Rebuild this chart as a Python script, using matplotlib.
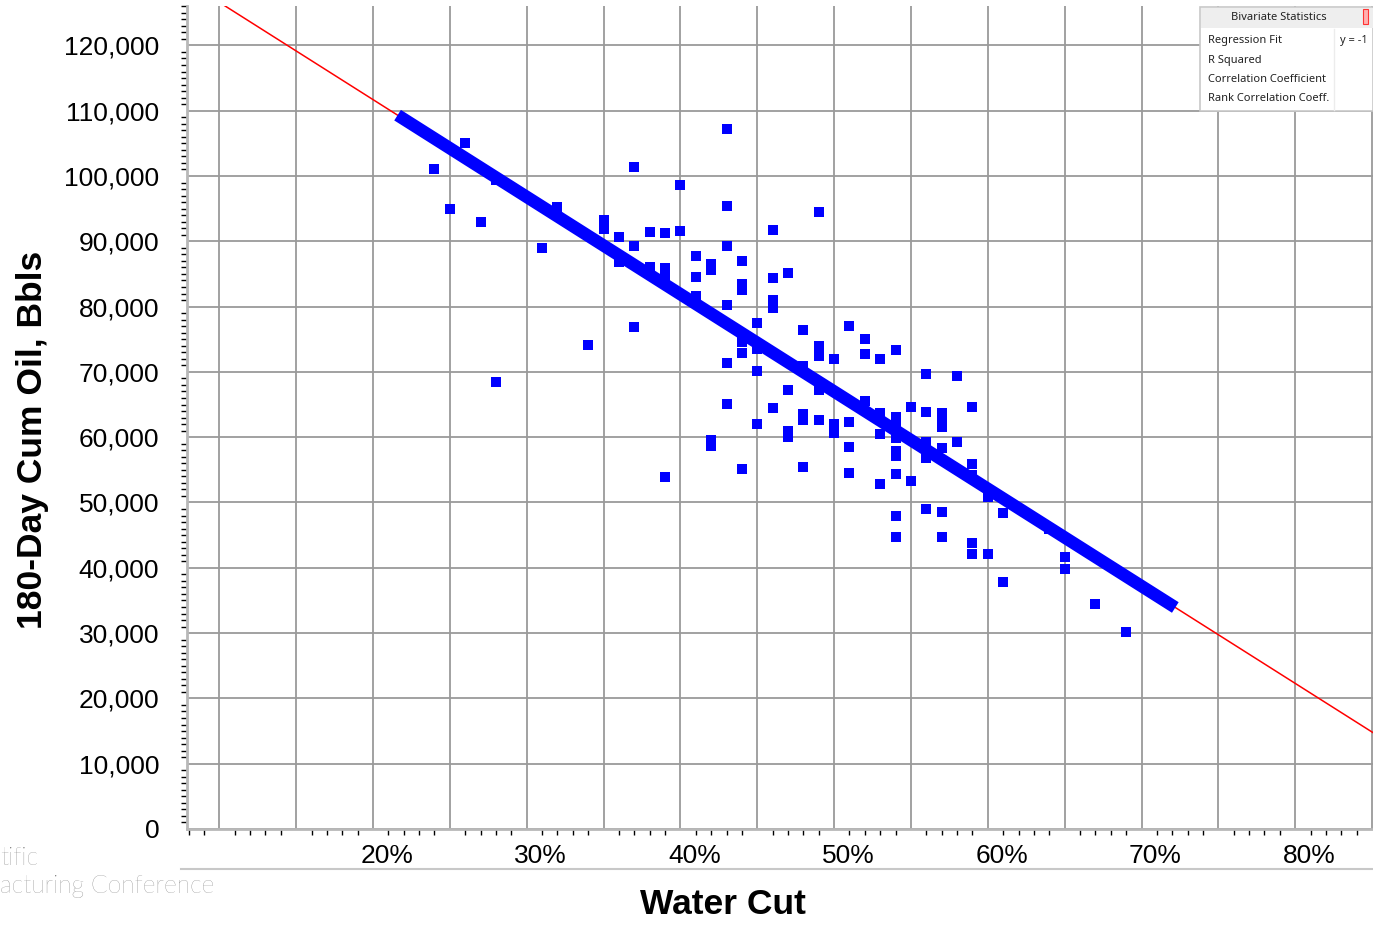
import matplotlib
matplotlib.use('Agg')
import matplotlib.pyplot as plt
import numpy as np
from matplotlib.ticker import FixedLocator, MultipleLocator, FuncFormatter
from matplotlib.transforms import ScaledTranslation
from matplotlib.patches import Rectangle
from matplotlib.lines import Line2D

# ---------------- data ----------------
water_cut = [24, 25, 26, 27, 28, 28, 31, 32, 34, 35, 35, 36, 36, 37, 37, 37,
             38, 38, 39, 39, 39, 39, 40, 40, 41, 41, 41, 42, 42, 42, 42,
             43, 43, 43, 43, 43, 43, 44, 44, 44, 44, 44, 44, 45, 45, 45, 45,
             46, 46, 46, 46, 46, 47, 47, 47, 47, 48, 48, 48, 48, 48,
             49, 49, 49, 49, 49, 50, 50, 50, 51, 51, 51, 51, 52, 52, 52,
             53, 53, 53, 53, 54, 54, 54, 54, 54, 54, 54, 54, 54, 55, 55,
             56, 56, 56, 56, 56, 56, 57, 57, 57, 57, 57, 57, 58, 58,
             59, 59, 59, 59, 59, 60, 60, 61, 61, 64, 65, 65, 67, 69]
cum_oil = [101000, 95000, 105000, 93000, 99400, 68500, 89000, 95300, 74100, 93200, 91900,
           90700, 86800, 101400, 89300, 76900,
           91400, 86100, 91300, 85900, 84500, 53900, 98600, 91600, 87700, 84500, 81600,
           86500, 85600, 59600, 58700,
           107200, 95400, 89300, 80200, 71400, 65100, 87000, 83500, 82500, 74600, 72900, 55100,
           77500, 73500, 70100, 62000,
           91700, 84400, 81000, 79800, 64500, 85100, 67200, 60900, 60000,
           76400, 70900, 63600, 62600, 55400,
           94500, 74000, 72400, 67200, 62600, 72000, 62000, 60600, 77000, 62300, 58500, 54500,
           75000, 72700, 65500,
           72000, 63700, 60500, 52800, 73400, 63100, 62200, 59900, 57900, 57100, 54400, 47900, 44700,
           64600, 53300,
           69700, 63900, 59300, 57600, 56800, 49000, 63700, 62600, 61600, 58300, 48500, 44700,
           69400, 59300,
           64600, 55900, 54200, 43800, 42100, 50800, 42100, 48400, 37800, 45900, 41700, 39800,
           34500, 30200]

fit_slope = -1490        # Bbls per % water cut
fit_intercept = 141500
fit_thick_range = [21.6, 72.2]
x_label_values = [20, 30, 40, 50, 60, 70, 80]
y_tick_values = list(range(0, 130000, 10000))
stat_rows = ["Regression Fit", "R Squared", "Correlation Coefficient", "Rank Correlation Coeff."]
stat_values = ["y = -1", "", "", ""]
watermark_lines = ["tific", "acturing Conference"]

# ---------------- figure ----------------
W, H = 1373, 925
fig = plt.figure(figsize=(W / 100, H / 100), dpi=100)
fig.patch.set_facecolor('white')

def fx(px):
    return px / W

def fy(py):
    return 1 - py / H

# watermark behind chart panel
wm_font = dict(family=['Lato', 'DejaVu Sans'], fontweight='light', color='#6e6e6e', fontsize=17.7)
fig.text(fx(0), fy(858), watermark_lines[0], ha='left', va='center', zorder=-3, **wm_font)
fig.text(fx(0), fy(886), watermark_lines[1], ha='left', va='center', zorder=-3, **wm_font)
fig.patches.append(Rectangle((fx(181), fy(879)), fx(1373) - fx(181), fy(0) - fy(879),
                             transform=fig.transFigure, facecolor='white', edgecolor='none', zorder=-2))
fig.lines.append(Line2D([fx(181), fx(1373)], [fy(869), fy(869)], transform=fig.transFigure,
                        color='#c8c8c8', lw=1.5, zorder=-1))

ax = fig.add_axes([fx(187), fy(829), fx(1373) - fx(187), fy(6) - fy(829)])
ax.set_facecolor('white')
x_left = 20 - (373 - 187) / 15.37
x_right = 20 + (1373 - 373) / 15.37
ax.set_xlim(x_left, x_right)
ax.set_ylim(0, (829 - 6) / 6.53 * 1000)

# gridlines (major) every 5%, labels every 10%
ax.xaxis.set_major_locator(FixedLocator(np.arange(10, 86, 5)))
ax.xaxis.set_major_formatter(FuncFormatter(
    lambda v, p: f"{int(round(v))}%" if int(round(v)) in x_label_values else ""))
ax.xaxis.set_minor_locator(MultipleLocator(1))
ax.yaxis.set_major_locator(FixedLocator(y_tick_values))
ax.yaxis.set_major_formatter(FuncFormatter(lambda v, p: f"{int(v):,}"))
ax.yaxis.set_minor_locator(MultipleLocator(1000))

tick_font = 'Liberation Sans'
ax.tick_params(axis='x', which='major', length=0, pad=11, labelsize=19, labelcolor='black')
ax.tick_params(axis='y', which='major', length=0, pad=20, labelsize=19, labelcolor='black')
ax.tick_params(axis='both', which='minor', length=4, width=1, color='black', direction='out')
for lab in ax.get_xticklabels() + ax.get_yticklabels():
    lab.set_fontfamily(tick_font)
offset = ScaledTranslation(14 / 100, 0, fig.dpi_scale_trans)
for lab in ax.get_xticklabels():
    lab.set_transform(lab.get_transform() + offset)

ax.grid(True, which='major', color='#9a9a9a', lw=1.3)
ax.set_axisbelow(True)
for s in ['top', 'right']:
    ax.spines[s].set_visible(False)
for s in ['left', 'bottom']:
    ax.spines[s].set_color('#b8b8b8')
    ax.spines[s].set_linewidth(2)

# regression lines
xr = np.array([10, x_right])
ax.plot(xr, fit_intercept + fit_slope * xr, color='#ff0000', lw=1.1, zorder=2)
xt = np.array(fit_thick_range)
ax.plot(xt, fit_intercept + fit_slope * xt, color='#0000ff', lw=9, zorder=3, solid_capstyle='butt')

# points
ax.plot(water_cut, cum_oil, linestyle='none', marker='s', markersize=6.5, color='#0000ff',
        markeredgewidth=0, zorder=4)

# axis titles
fig.text(fx(33), fy(440), "180-Day Cum Oil, Bbls", rotation=90, ha='center', va='center',
         fontsize=25.5, fontweight='bold', family=tick_font)
fig.text(fx(723), fy(905), "Water Cut", ha='center', va='center',
         fontsize=25.5, fontweight='bold', family=tick_font)

# statistics table
def prect(x0, y0, x1, y1, **kw):
    fig.patches.append(Rectangle((fx(x0), fy(y1)), fx(x1) - fx(x0), fy(y0) - fy(y1),
                                 transform=fig.transFigure, **kw))

prect(1200, 7, 1373, 111, facecolor='white', edgecolor='#c8c8c8', lw=1.2, zorder=5)
prect(1201, 8, 1373, 28, facecolor='#eeeeee', edgecolor='none', zorder=6)
fig.lines.append(Line2D([fx(1334), fx(1334)], [fy(29), fy(110)], transform=fig.transFigure,
                        color='#ececec', lw=1, zorder=6))
prect(1363, 9, 1368, 24, facecolor='#ffb0b0', edgecolor='#ff3333', lw=0.8, zorder=7)
tbl_font = dict(family=['Noto Sans', 'DejaVu Sans'], fontsize=8.0, color='#222222', zorder=8)
fig.text(fx(1279), fy(17), "Bivariate Statistics", ha='center', va='center', **tbl_font)
for i, (r, v) in enumerate(zip(stat_rows, stat_values)):
    yy = 41 + i * 19.3
    fig.text(fx(1208), fy(yy), r, ha='left', va='center', **tbl_font)
    if v:
        fig.text(fx(1340), fy(yy), v, ha='left', va='center', **tbl_font)

fig.savefig('out.png', dpi=100, facecolor='white')
